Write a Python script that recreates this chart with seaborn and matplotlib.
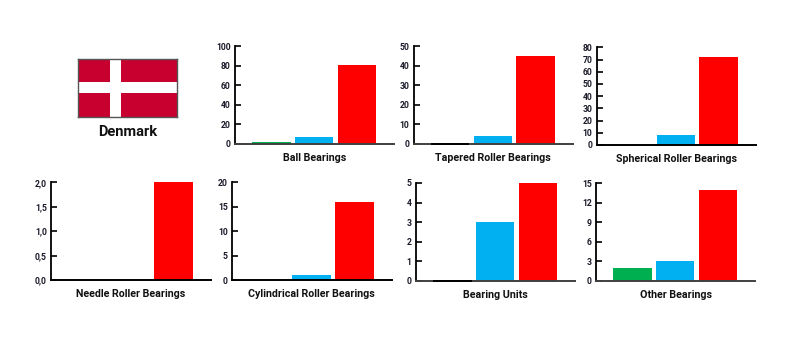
import matplotlib
matplotlib.use("Agg")
import matplotlib.pyplot as plt
from matplotlib.patches import Rectangle
import seaborn as sns
import pandas as pd

sns.set_theme(style="white")
plt.rcParams['font.family'] = ['Roboto', 'DejaVu Sans']

W, H = 807, 360
series = ["Green", "Blue", "Red"]
colors = ["#00B050", "#00B0F0", "#FF0000"]

titles = ["Ball Bearings", "Tapered Roller Bearings", "Spherical Roller Bearings",
          "Needle Roller Bearings", "Cylindrical Roller Bearings", "Bearing Units", "Other Bearings"]
ball = [2, 7, 81]
tapered = [0, 4, 45]
spherical = [0, 8, 72]
needle = [0, 0, 2]
cylindrical = [0, 1, 16]
units = [0, 3, 5]
other = [2, 3, 14]
values = [ball, tapered, spherical, needle, cylindrical, units, other]
y_max = [100, 50, 80, 2, 20, 5, 15]
y_step = [20, 10, 10, 0.5, 5, 1, 3]
boxes = [(235, 46, 394, 143.7), (413.5, 46, 573, 143.7), (596.7, 47.3, 756, 145),
         (51, 182.3, 210.7, 280), (232, 182.3, 391.7, 280),
         (415.7, 183, 575.3, 280.7), (596, 183.3, 755, 281)]
black_zero = [False, True, False, False, False, True, False]
grey_base = [True, True, False, False, False, True, True]


def px_axes(fig, l, t, r, b):
    return fig.add_axes([l / W, 1 - b / H, (r - l) / W, (b - t) / H])


fig = plt.figure(figsize=(W / 100, H / 100), dpi=100, facecolor="white")

for i, title in enumerate(titles):
    ax = px_axes(fig, *boxes[i])
    df = pd.DataFrame({"series": series, "value": values[i]})
    sns.barplot(data=df, x="series", y="value", hue="series", palette=colors,
                width=0.9, dodge=False, legend=False, ax=ax,
                edgecolor="none", linewidth=0, saturation=1)
    ax.set_xlim(-0.855, 2.875)
    ax.set_ylim(0, y_max[i])
    n = int(round(y_max[i] / y_step[i]))
    ticks = [k * y_step[i] for k in range(n + 1)]
    ax.set_yticks(ticks)
    if y_step[i] < 1:
        ax.set_yticklabels([f"{t:.1f}".replace(".", ",") for t in ticks])
    ax.set_xticks([])
    ax.set_ylabel("")
    ax.set_xlabel(title, fontsize=7.7, fontweight="bold", color="#111111", labelpad=6.5)
    ax.tick_params(axis="y", direction="in", length=4, width=1.2, color="black",
                   pad=3, labelsize=6.2, labelcolor="#1a1a2a", left=True)
    for lab in ax.get_yticklabels():
        lab.set_fontweight("bold")
    for s in ("top", "right"):
        ax.spines[s].set_visible(False)
    ax.spines["left"].set_color("black")
    ax.spines["left"].set_linewidth(1.3)
    ax.spines["bottom"].set_color("#404040" if grey_base[i] else "black")
    ax.spines["bottom"].set_linewidth(1.4)
    if black_zero[i]:
        p = ax.patches[0]
        ax.plot([p.get_x(), p.get_x() + p.get_width()], [0, 0], color="black",
                lw=1.4, clip_on=False, zorder=5, solid_capstyle="butt")

# Flag of Denmark
flag = px_axes(fig, 78.3, 58.7, 176.7, 116.7)
flag.set_xlim(78.3, 176.7)
flag.set_ylim(116.7, 58.7)
flag.set_xticks([])
flag.set_yticks([])
flag.set_facecolor("#C8002F")
flag.add_patch(Rectangle((110, 58.7), 11, 58, color="white", lw=0))
flag.add_patch(Rectangle((78.3, 82.3), 98.4, 10.4, color="white", lw=0))
for s in flag.spines.values():
    s.set_color("#555555")
    s.set_linewidth(1)

fig.text(127.5 / W, 1 - 131.7 / H, "Denmark", ha="center", va="center",
         fontsize=10.5, fontweight="bold", color="#111111")

fig.savefig("out.png", dpi=100, facecolor="white")
